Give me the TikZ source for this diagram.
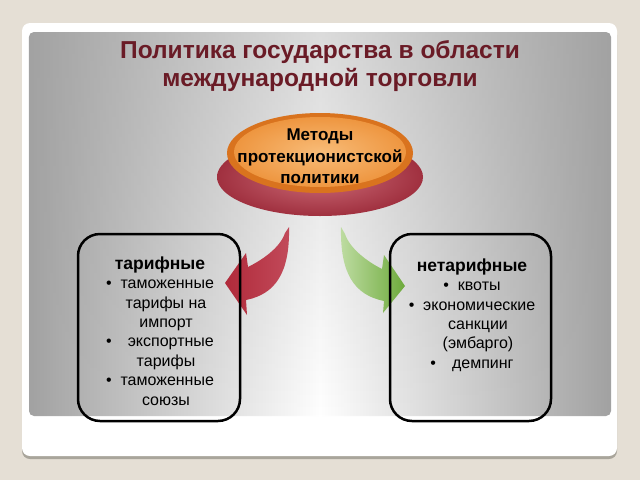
\documentclass[tikz,border=0pt]{standalone}
\usepackage{fontspec}
\setmainfont{Liberation Sans}
\usetikzlibrary{fadings}
\definecolor{bgbeige}{HTML}{E5DFD5}
\definecolor{cardshadow}{HTML}{A9A59B}
\definecolor{panelgray}{HTML}{A2A2A2}
\definecolor{titlered}{HTML}{6A1B26}
\definecolor{orrim}{HTML}{D9731E}
\definecolor{orin}{HTML}{F8BC78}
\definecolor{orout}{HTML}{EE9640}
\definecolor{rdin}{HTML}{CC6C78}
\definecolor{rdout}{HTML}{A0303F}
\definecolor{arrred1}{HTML}{B02A3A}
\definecolor{arrred2}{HTML}{C24A5A}
\definecolor{arrgrn1}{HTML}{BEDCA2}
\definecolor{arrgrn2}{HTML}{6EAA3C}
\newcommand\myheadfont{\fontsize{17.5}{19.4}\selectfont\bfseries}
\tikzset{
  titletext/.style={align=center, text=titlered, font=\fontsize{24.5}{28.5}\selectfont\bfseries, inner sep=0pt},
  methtext/.style={align=center, text=black, font=\fontsize{17}{21.5}\selectfont\bfseries, inner sep=0pt},
  listtext/.style={align=center, text=black, font=\fontsize{16}{19.4}\selectfont, inner sep=0pt},
  groupbox/.style={draw=black, line width=2.5pt, rounded corners=22pt},
}
\begin{document}
\begin{tikzpicture}[x=1pt,y=-1pt]
\useasboundingbox (0,0) rectangle (640,480);
\fill[bgbeige] (0,0) rectangle (640,480);
% card
\fill[cardshadow, rounded corners=8pt] (22,27) rectangle (617,459);
\fill[white, rounded corners=8pt] (22,23) rectangle (617,456);
% panel
\shade[rounded corners=5pt, left color=panelgray, right color=panelgray, middle color=white] (29,32) rectangle (611,416);
\fill[panelgray, opacity=0.38, path fading=south, rounded corners=5pt] (29,32) rectangle (611,416);
% title
\node[titletext] (title) at (320,66) {Политика государства в области\\международной торговли};
% central ellipse
\shade[inner color=rdin, outer color=rdout] (320,177) ellipse [x radius=103pt, y radius=39pt];
\fill[orrim] (320,153) ellipse [x radius=93pt, y radius=40pt];
\shade[inner color=orin, outer color=orout] (320,152) ellipse [x radius=86pt, y radius=35pt];
\node[methtext] (meth) at (320,156.5) {Методы\\протекционистской\\политики};
% arrows
\shade[left color=arrred1, right color=arrred2]
  (285,233) .. controls (280,248) and (262,260) .. (248,267) -- (246,253) -- (225,283)
  -- (247,315) -- (246,300) .. controls (276,294) and (290,272) .. (289,227) -- cycle;
\shade[left color=arrgrn1, right color=arrgrn2]
  (345,234) .. controls (350,249) and (368,262) .. (382,269) -- (384,255) -- (405,286)
  -- (383,313) -- (384,301) .. controls (354,295) and (340,273) .. (341,227) -- cycle;
% boxes
\draw[groupbox] (78,234) rectangle (240,421);
\draw[groupbox] (390,234) rectangle (551,421);
\node[listtext] (tarif) at (160,331) {{\myheadfont тарифные}\\
  •\ \ таможенные\\
  \hspace*{12pt}тарифы на\\
  \hspace*{12pt}импорт\\
  •\quad экспортные\\
  \hspace*{12pt}тарифы\\
  •\ \ таможенные\\
  \hspace*{12pt}союзы};
\node[listtext] (netarif) at (472,315) {{\myheadfont нетарифные}\\
  •\ \ квоты\\
  •\ \ экономические\\
  \hspace*{12pt}санкции\\
  \hspace*{12pt}(эмбарго)\\
  •\quad демпинг};
\end{tikzpicture}
\end{document}
